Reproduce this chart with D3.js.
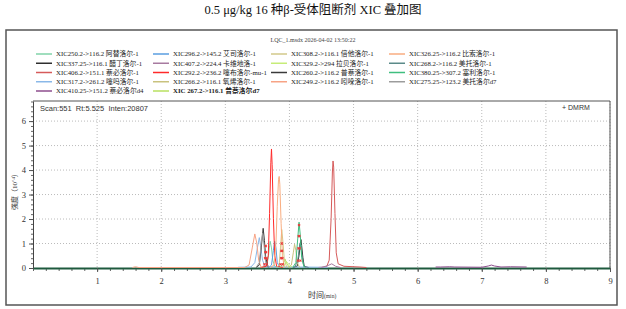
<!DOCTYPE html>
<html>
<head>
<meta charset="utf-8">
<script src="https://cdn.jsdelivr.net/npm/d3@7"></script>
<style>
body { margin: 0; background: white; }
svg { display: block; }
.serif { font-family: "Times New Roman", "Liberation Serif", "Noto Sans CJK SC", serif; }
.sans { font-family: Arial, "Liberation Sans", "Noto Sans CJK SC", sans-serif; }
</style>
</head>
<body>
<svg></svg>
<script>
var width = 626, height = 309;

var title = "0.5 μg/kg 16 种β-受体阻断剂 XIC 叠加图";
var header = "LQC_1.msdx 2026-04-02 13:50:22";
var scanText = "Scan:551  Rt:5.525  Inten:20807";

// legend names and colours, in the order of the legend columns
var names = [
    "XIC250.2->116.2 阿替洛尔-1", "XIC337.25->116.1 醋丁洛尔-1", "XIC406.2->151.1 萘必洛尔-1",
    "XIC317.2->261.2 噻吗洛尔-1", "XIC410.25->151.2 萘必洛尔d4",
    "XIC296.2->145.2 艾司洛尔-1", "XIC407.2->224.4 卡维地洛-1", "XIC292.2->236.2 噻布洛尔-mu-1",
    "XIC266.2->116.1 氧烯洛尔-1", "XIC 267.2->116.1 普萘洛尔d7",
    "XIC308.2->116.1 倍他洛尔-1", "XIC329.2->294 拉贝洛尔-1", "XIC260.2->116.2 普萘洛尔-1",
    "XIC249.2->116.2 吲哚洛尔-1",
    "XIC326.25->116.2 比索洛尔-1", "XIC268.2->116.2 美托洛尔-1", "XIC380.25->307.2 塞利洛尔-1",
    "XIC275.25->123.2 美托洛尔d7"
];
var colors = [
    "#80d3a9", "#2e2e2e", "#d65a5a", "#8ab8e8", "#8e4e8e",
    "#5a9ee0", "#a77aa0", "#ff2a2a", "#c9c27e", "#b8e060",
    "#d2c98a", "#c6ec78", "#3a3a3a", "#f7a385",
    "#f9ad80", "#5b8a89", "#3fbf7f", "#9c9c9c"
];
var legendCol = [0,0,0,0,0, 1,1,1,1,1, 2,2,2,2, 3,3,3,3];
var legendRow = [0,1,2,3,4, 0,1,2,3,4, 0,1,2,3, 0,1,2,3];

// intensity (x10^4) against time (min)
var s0  = [[3.55,0],[3.64,0.05],[3.67,0.4],[3.69,0.9],[3.70,1.07],[3.72,0.8],[3.74,0.3],[3.77,0.05],[3.85,0]];
var s1  = [[4.05,0],[4.12,0.05],[4.15,0.5],[4.17,1.0],[4.18,1.14],[4.19,0.9],[4.21,0.4],[4.23,0.05],[4.30,0]];
var s2  = [[4.45,0],[4.58,0.03],[4.62,0.3],[4.65,2.0],[4.67,3.9],[4.68,4.35],[4.69,4.1],[4.71,2.2],[4.73,0.6],[4.76,0.15],[4.85,0.05],[5.10,0.02],[5.20,0]];
var s3  = [[3.20,0.01],[3.40,0.02],[3.46,0.2],[3.50,0.8],[3.53,1.22],[3.55,0.9],[3.58,0.3],[3.62,0.03],[4.60,0.01]];
var s4  = [[6.28,0.02],[6.36,0.02],[6.50,0.03],[6.58,0.02],[7.00,0.01],[7.10,0.06],[7.15,0.1],[7.20,0.06],[7.30,0.02],[7.45,0.03],[7.70,0.02]];
var s5  = [[3.68,0],[3.72,0.1],[3.75,0.7],[3.77,1.07],[3.79,0.8],[3.81,0.2],[3.85,0]];
var s6  = [[4.50,0],[4.60,0.08],[4.66,0.15],[4.72,0.05],[4.80,0]];
var s7  = [[3.55,0],[3.64,0.05],[3.67,0.5],[3.69,2.2],[3.71,4.3],[3.72,4.84],[3.73,4.2],[3.75,2.0],[3.77,0.5],[3.80,0.05],[3.90,0]];
var s8  = [[3.98,0],[4.03,0.1],[4.06,0.6],[4.08,0.95],[4.10,0.7],[4.12,0.2],[4.16,0]];
var s9  = [[3.85,0],[3.90,0.15],[3.93,0.35],[3.96,0.15],[4.00,0]];
var s10 = [[3.80,0],[3.84,0.1],[3.86,0.8],[3.88,1.55],[3.90,1.0],[3.92,0.3],[3.96,0]];
var s11 = [[3.90,0],[3.95,0.25],[4.00,0.1],[4.05,0]];
var s12 = [[3.48,0],[3.53,0.1],[3.56,0.8],[3.59,1.6],[3.61,1.1],[3.63,0.4],[3.67,0]];
var s13 = [[1.55,0],[1.60,0.03],[1.65,0],[3.30,0],[3.37,0.1],[3.42,0.8],[3.46,1.37],[3.49,1.0],[3.52,0.3],[3.56,0]];
var s14 = [[3.70,0],[3.76,0.1],[3.79,1.0],[3.81,2.5],[3.83,3.6],[3.84,3.72],[3.85,3.4],[3.87,1.8],[3.89,0.5],[3.92,0]];
var s15 = [[4.08,0],[4.13,0.3],[4.16,0.95],[4.17,1.0],[4.19,0.6],[4.22,0.1],[4.26,0]];
var s16 = [[4.05,0],[4.10,0.2],[4.13,1.2],[4.15,1.85],[4.17,1.3],[4.19,0.4],[4.23,0]];
var s17 = [[3.48,0],[3.53,0.2],[3.56,1.0],[3.58,1.4],[3.60,1.0],[3.63,0.2],[3.68,0]];
var series = [s0,s1,s2,s3,s4,s5,s6,s7,s8,s9,s10,s11,s12,s13,s14,s15,s16,s17];

// red cross marks drawn over some peaks
var marks = [[3.61,0.15],[3.62,0.4],[3.625,0.65],[3.63,0.9],[3.635,0.65],[3.64,0.4],[3.645,0.15],
    [3.86,0.15],[3.87,0.4],[3.875,0.7],[3.88,1.0],[3.885,0.7],[3.89,0.4],[3.895,0.15],
    [4.13,0.3],[4.14,0.8],[4.145,1.3],[4.15,1.75],[4.155,1.3],[4.16,0.8],[4.17,0.3]];

var xTicks = [1,2,3,4,5,6,7,8,9];
var yTicks = [0,1,2,3,4,5,6];

var svg = d3.select("svg")
    .attr("width", width)
    .attr("height", height);

svg.append("text")
    .attr("class", "serif")
    .attr("x", 313).attr("y", 14)
    .attr("text-anchor", "middle")
    .style("font-size", "12.5px")
    .style("fill", "#111")
    .text(title);

svg.append("rect")
    .attr("x", 6).attr("y", 30)
    .attr("width", 611).attr("height", 275)
    .style("fill", "none")
    .style("stroke", "#555")
    .style("stroke-width", 1.5);

svg.append("text")
    .attr("class", "serif")
    .attr("x", 313).attr("y", 42)
    .attr("text-anchor", "middle")
    .style("font-size", "6px")
    .style("fill", "#444")
    .text(header);

// legend
var colX = [36, 153, 271, 389];
var legend = svg.selectAll(".leg")
    .data(names)
    .enter().append("g")
    .attr("class", "leg")
    .attr("transform", function(d, i) {
        return "translate(" + colX[legendCol[i]] + "," + (54 + legendRow[i]*9.25) + ")";
    });
legend.append("line")
    .attr("x1", 0).attr("x2", 16)
    .style("stroke", function(d, i) { return colors[i]; })
    .style("stroke-width", 1.5);
legend.append("text")
    .attr("class", "serif")
    .attr("x", 20).attr("y", 2.3)
    .style("font-size", "6.8px")
    .style("font-weight", function(d, i) { return i == 9 ? "bold" : "normal"; })
    .style("fill", "#222")
    .text(function(d) { return d; });

// plot area
var x = d3.scaleLinear().domain([0, 9]).range([33, 610]);
var y = d3.scaleLinear().domain([0, 6.82]).range([268, 101]);

var grid = svg.append("g");
grid.selectAll(".gx").data(xTicks).enter().append("line")
    .attr("x1", function(d) { return x(d); }).attr("x2", function(d) { return x(d); })
    .attr("y1", 101).attr("y2", 268)
    .style("stroke", "#bbb").style("stroke-dasharray", "1,2");
grid.selectAll(".gy").data(yTicks.slice(1)).enter().append("line")
    .attr("x1", 33).attr("x2", 610)
    .attr("y1", function(d) { return y(d); }).attr("y2", function(d) { return y(d); })
    .style("stroke", "#bbb").style("stroke-dasharray", "1,2");

svg.append("path")
    .attr("d", "M33,101H610V268")
    .style("fill", "none").style("stroke", "#555").style("stroke-width", 1);

// minor ticks
var minorX = d3.range(0, 9.01, 0.2);
var minorY = d3.range(0, 6.81, 0.2);
svg.append("g").attr("transform", "translate(0,268)")
    .call(d3.axisBottom(x).tickValues(minorX).tickSize(3).tickFormat(""))
    .call(function(g) { g.select(".domain").remove(); g.selectAll("line").style("stroke", "#666"); });
svg.append("g").attr("transform", "translate(33,0)")
    .call(d3.axisLeft(y).tickValues(minorY).tickSize(2).tickFormat(""))
    .call(function(g) { g.select(".domain").remove(); g.selectAll("line").style("stroke", "#666"); });

var xAxis = svg.append("g").attr("transform", "translate(0,268)")
    .call(d3.axisBottom(x).tickValues(xTicks).tickSize(4).tickSizeOuter(0).tickPadding(6).tickFormat(d3.format("d")));
var yAxis = svg.append("g").attr("transform", "translate(33,0)")
    .call(d3.axisLeft(y).tickValues(yTicks).tickSize(4).tickSizeOuter(0).tickPadding(3).tickFormat(d3.format("d")));
[xAxis, yAxis].forEach(function(g) {
    g.selectAll("text").attr("class", "serif").style("font-size", "8.5px").style("fill", "#333");
    g.selectAll("line").style("stroke", "#555");
});
yAxis.select(".domain").style("stroke", "#444");
xAxis.select(".domain").style("stroke", "#1e5a3e").style("stroke-width", 2);

// traces
var line = d3.line()
    .x(function(d) { return x(d[0]); })
    .y(function(d) { return y(d[1]) - 0.5; });
svg.selectAll(".trace")
    .data(series)
    .enter().append("path")
    .attr("class", "trace")
    .attr("d", line)
    .style("fill", "none")
    .style("stroke", function(d, i) { return colors[i]; })
    .style("stroke-width", 1);

svg.selectAll(".mark")
    .data(marks)
    .enter().append("path")
    .attr("class", "mark")
    .attr("transform", function(d) { return "translate(" + x(d[0]) + "," + y(d[1]) + ") rotate(45)"; })
    .attr("d", d3.symbol().type(d3.symbolCross).size(5))
    .style("fill", "#e83a3a");

svg.append("text")
    .attr("class", "sans")
    .attr("x", 40).attr("y", 111)
    .style("font-size", "7.5px")
    .style("fill", "#333")
    .style("white-space", "pre")
    .text(scanText);

svg.append("text")
    .attr("class", "sans")
    .attr("x", 562).attr("y", 110)
    .style("font-size", "7px")
    .style("fill", "#333")
    .text("+ DMRM");

// axis titles
var xt = svg.append("text")
    .attr("class", "serif")
    .attr("x", 308).attr("y", 298)
    .style("fill", "#333")
    .style("font-size", "8px");
xt.append("tspan").text("时间");
xt.append("tspan").style("font-size", "5.5px").text("(min)");

var yt = svg.append("text")
    .attr("class", "serif")
    .attr("transform", "translate(17,190) rotate(-90)")
    .attr("text-anchor", "middle")
    .style("fill", "#333")
    .style("font-size", "7px");
yt.append("tspan").text("强度（10");
yt.append("tspan").style("font-size", "5px").attr("dy", -2).text("^4");
yt.append("tspan").attr("dy", 2).text("）");
</script>
</body>
</html>
